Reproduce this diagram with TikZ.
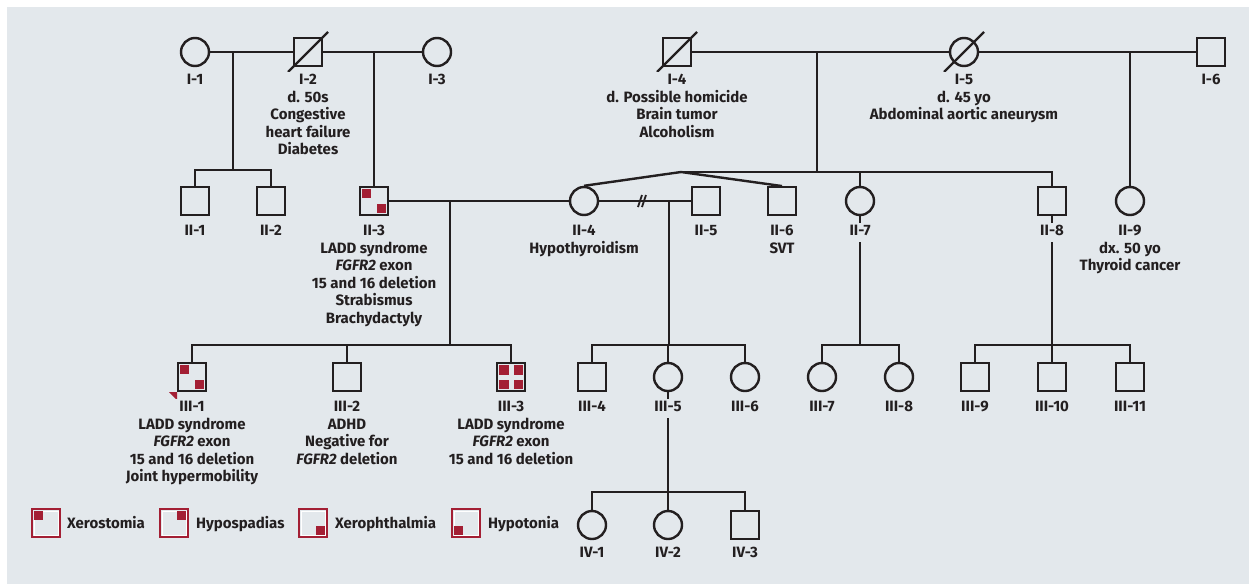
\documentclass[tikz,border=0pt]{standalone}
\usepackage{fontspec}
\setmainfont{Fira Sans}
\definecolor{bg}{HTML}{E3E8EC}
\definecolor{pred}{HTML}{A31F34}
\definecolor{ink}{HTML}{231F20}
\newcommand\lblfont{\fontsize{15}{17.5}\selectfont\bfseries}
\newcommand\patch[5]{\fill[pred] ([shift={(#2,#3)}]#1.center) rectangle ([shift={(#4,#5)}]#1.center);}
\begin{document}
\begin{tikzpicture}[x=1pt,y=-1pt,
  male/.style={draw=ink, rectangle, minimum size=27.5pt, inner sep=0pt, fill=bg, line width=2.4pt},
  female/.style={draw=ink, circle, minimum size=28pt, inner sep=0pt, fill=bg, line width=2.4pt},
  lbl/.style={anchor=north, align=center, font=\lblfont, fill=bg, inner sep=1pt, text=ink},
  conn/.style={draw=ink, line width=2.4pt},
  dec/.style={draw=ink, line width=2.2pt},
  legbox/.style={draw=pred, rectangle, minimum size=27.5pt, inner sep=0pt, line width=2.4pt},
  legtxt/.style={anchor=base west, font=\lblfont, text=ink, inner sep=0pt}]
\useasboundingbox (0,0) rectangle (1249,584);
\fill[bg] (7,7) rectangle (1249,584);

% ---------- generation I ----------
\node[female] (I1) at (195,52) {};
\node[male] (I2) at (308,52) {};
\node[female] (I3) at (437,52) {};
\node[male] (I4) at (677,52) {};
\node[female] (I5) at (964,52) {};
\node[male] (I6) at (1211,52) {};

% ---------- generation II ----------
\node[male] (II1) at (195,201) {};
\node[male] (II2) at (271,201) {};
\node[male] (II3) at (374,201) {};
\node[female] (II4) at (584,201) {};
\node[male] (II5) at (706,201) {};
\node[male] (II6) at (782,201) {};
\node[female] (II7) at (860,201) {};
\node[male] (II8) at (1052,201) {};
\node[female] (II9) at (1130,201) {};

% ---------- generation III ----------
\node[male] (III1) at (192,377) {};
\node[male] (III2) at (347,377) {};
\node[male] (III3) at (511,377) {};
\node[male] (III4) at (592,377) {};
\node[female] (III5) at (668,377) {};
\node[female] (III6) at (745,377) {};
\node[female] (III7) at (822,377) {};
\node[female] (III8) at (899,377) {};
\node[male] (III9) at (975,377) {};
\node[male] (III10) at (1052,377) {};
\node[male] (III11) at (1130,377) {};

% ---------- generation IV ----------
\node[female] (IV1) at (592,525) {};
\node[female] (IV2) at (668,525) {};
\node[male] (IV3) at (745,525) {};

% ---------- coordinates ----------
\coordinate (j12) at (233,52);
\coordinate (s12) at (233,170);
\coordinate (j23) at (374,52);
\coordinate (j45) at (817,52);
\coordinate (tw) at (681,172);
\coordinate (j56) at (1130,52);
\coordinate (c34) at (450,201);
\coordinate (s34) at (450,345);
\coordinate (c45) at (669,201);
\coordinate (s45) at (669,345);
\coordinate (s7) at (860,345);
\coordinate (s8) at (1052,345);
\coordinate (s5) at (668,492);
\coordinate (brk) at (643,201);

% ---------- connectors ----------
\draw[conn] (I1) -- (I2);
\draw[conn] (I2) -- (I3);
\draw[conn] (j12) -- (s12);
\draw[conn] (II1.north) |- (s12) -| (II2.north);
\draw[conn] (j23) -- (II3.north);
\draw[conn] (I4) -- (I5);
\draw[conn] (I5) -- (I6);
\draw[conn] (j45) -- (j45 |- tw);
\draw[conn, line join=miter] (II4.north) -- (tw) -- (II6.north);
\draw[conn] (tw) -| (II8.north);
\draw[conn] (II7.north) -- (II7.north |- tw);
\draw[conn] (j56) -- (II9.north);
\draw[conn] (II3) -- (II4);
\draw[conn] (c34) -- (s34);
\draw[conn] (III1.north) |- (s34) -| (III3.north);
\draw[conn] (III2.north) -- (III2.north |- s34);
\draw[conn] (II4) -- (II5);
\draw[conn] (c45) -- (s45);
\draw[conn] (III4.north) |- (s45) -| (III6.north);
\draw[conn] (III5.north) -- (III5.north |- s45);
\draw[conn] (II7.south) -- (s7);
\draw[conn] (III7.north) |- (s7) -| (III8.north);
\draw[conn] (II8.south) -- (s8);
\draw[conn] (III9.north) |- (s8) -| (III11.north);
\draw[conn] (III10.north) -- (III10.north |- s8);
\draw[conn] (III5.south) -- (s5);
\draw[conn] (IV1.north) |- (s5) -| (IV3.north);
\draw[conn] (IV2.north) -- (IV2.north |- s5);

% divorce / separation mark
\draw[conn, line width=1.8pt] ([shift={(-5,6)}]brk) -- ([shift={(-1,-6)}]brk);
\draw[conn, line width=1.8pt] ([shift={(-1,6)}]brk) -- ([shift={(3,-6)}]brk);

% deceased marks
\draw[dec] ([shift={(-20,20)}]I2.center) -- ([shift={(20,-20)}]I2.center);
\draw[dec] ([shift={(-20,20)}]I4.center) -- ([shift={(20,-20)}]I4.center);
\draw[dec] ([shift={(-20,20)}]I5.center) -- ([shift={(20,-20)}]I5.center);

% affected patches
\patch{II3}{-12}{-12}{-3}{-3}
\patch{II3}{3}{3}{12}{12}
\patch{III1}{-12}{-12}{-3}{-3}
\patch{III1}{3}{3}{12}{12}
\patch{III3}{-12}{-12}{-2.5}{-2.5}
\patch{III3}{2.5}{-12}{12}{-2.5}
\patch{III3}{-12}{2.5}{-2.5}{12}
\patch{III3}{2.5}{2.5}{12}{12}
\fill[pred] ([shift={(-23,15)}]III1.center) -- ([shift={(-15,15)}]III1.center) -- ([shift={(-15,23)}]III1.center) -- cycle;

% ---------- labels ----------
\node[lbl] (lI1) at (195,71.5) {\strut I-1};
\node[lbl] (lI2) at (308,71.5) {\strut I-2\\d. 50s\\Congestive\\heart failure\\Diabetes};
\node[lbl] (lI3) at (437,71.5) {\strut I-3};
\node[lbl] (lI4) at (677,71.5) {\strut I-4\\d. Possible homicide\\Brain tumor\\Alcoholism};
\node[lbl] (lI5) at (964,71.5) {\strut I-5\\d. 45 yo\\Abdominal aortic aneurysm};
\node[lbl] (lI6) at (1211,71.5) {\strut I-6};

\node[lbl] (lII1) at (195,222.5) {\strut II-1};
\node[lbl] (lII2) at (271,222.5) {\strut II-2};
\node[lbl] (lII3) at (374,222.5) {\strut II-3\\LADD syndrome\\\textit{FGFR2} exon\\15 and 16 deletion\\Strabismus\\Brachydactyly};
\node[lbl] (lII4) at (584,222.5) {\strut II-4\\Hypothyroidism};
\node[lbl] (lII5) at (706,222.5) {\strut II-5};
\node[lbl] (lII6) at (782,222.5) {\strut II-6\\SVT};
\node[lbl] (lII7) at (860,222.5) {\strut II-7};
\node[lbl] (lII8) at (1052,222.5) {\strut II-8};
\node[lbl] (lII9) at (1130,222.5) {\strut II-9\\dx. 50 yo\\Thyroid cancer};

\node[lbl] (lIII1) at (192,398.5) {\strut III-1\\LADD syndrome\\\textit{FGFR2} exon\\15 and 16 deletion\\Joint hypermobility};
\node[lbl] (lIII2) at (347,398.5) {\strut III-2\\ADHD\\Negative for\\\textit{FGFR2} deletion};
\node[lbl] (lIII3) at (511,398.5) {\strut III-3\\LADD syndrome\\\textit{FGFR2} exon\\15 and 16 deletion};
\node[lbl] (lIII4) at (592,398.5) {\strut III-4};
\node[lbl] (lIII5) at (668,398.5) {\strut III-5};
\node[lbl] (lIII6) at (745,398.5) {\strut III-6};
\node[lbl] (lIII7) at (822,398.5) {\strut III-7};
\node[lbl] (lIII8) at (899,398.5) {\strut III-8};
\node[lbl] (lIII9) at (975,398.5) {\strut III-9};
\node[lbl] (lIII10) at (1052,398.5) {\strut III-10};
\node[lbl] (lIII11) at (1130,398.5) {\strut III-11};

\node[lbl] (lIV1) at (592,544.5) {\strut IV-1};
\node[lbl] (lIV2) at (668,544.5) {\strut IV-2};
\node[lbl] (lIV3) at (745,544.5) {\strut IV-3};

% ---------- legend ----------
\node[legbox] (L1) at (46,523) {};
\node[legbox] (L2) at (174,523) {};
\node[legbox] (L3) at (313,523) {};
\node[legbox] (L4) at (466,523) {};
\foreach \b in {L1,L2,L3,L4}{
  \draw[white, line width=0.6pt] ([shift={(-11.8,-11.8)}]\b.center) rectangle ([shift={(11.8,11.8)}]\b.center);
}
\patch{L1}{-12}{-12}{-3}{-3}
\patch{L2}{3}{-12}{12}{-3}
\patch{L3}{3}{3}{12}{12}
\patch{L4}{-12}{3}{-3}{12}
\node[legtxt] (T1) at (67,528) {Xerostomia};
\node[legtxt] (T2) at (196,528) {Hypospadias};
\node[legtxt] (T3) at (335,528) {Xerophthalmia};
\node[legtxt] (T4) at (488,528) {Hypotonia};
\end{tikzpicture}
\end{document}
